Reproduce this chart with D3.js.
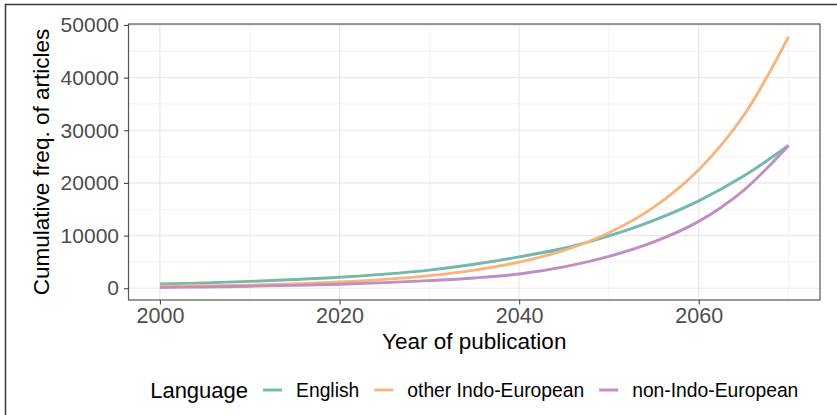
<!DOCTYPE html>
<html>
<head>
<meta charset="utf-8">
<script src="https://cdn.jsdelivr.net/npm/d3@7"></script>
<style>
  html, body { margin: 0; padding: 0; background: #fff; }
  svg { display: block; font-family: "Liberation Sans", Arial, sans-serif; }
</style>
</head>
<body>
<svg id="chart" width="837" height="415"></svg>
<script>
// Years of publication (5-year steps)
const years = [2000, 2005, 2010, 2015, 2020, 2025, 2030, 2035, 2040, 2045, 2050, 2055, 2060, 2065, 2070];

// Cumulative frequency of articles per language group
const english      = [800, 1020, 1300, 1650, 2080, 2680, 3450, 4550, 5950, 7600, 9950, 12900, 16600, 21300, 27100];
const otherIndoEur = [400, 480, 600, 830, 1180, 1680, 2400, 3450, 4950, 7200, 10550, 15400, 22500, 32800, 47800];
const nonIndoEur   = [150, 250, 380, 540, 760, 1060, 1450, 1950, 2700, 4050, 6050, 8800, 12700, 18600, 27100];

const seriesNames  = ["English", "other Indo-European", "non-Indo-European"];
const seriesColors = ["#72b9ab", "#f8b47c", "#bf8ec3"];

const xTicks = [2000, 2020, 2040, 2060];
const xMinor = [2010, 2030, 2050, 2070];
const yTicks = [0, 10000, 20000, 30000, 40000, 50000];
const yMinor = [5000, 15000, 25000, 35000, 45000];

const legendTitle = "Language";
const xTitle = "Year of publication";
const yTitle = "Cumulative freq. of articles";

const series = [english, otherIndoEur, nonIndoEur].map((vals, i) => ({
  name: seriesNames[i],
  color: seriesColors[i],
  points: years.map((yr, j) => ({ x: yr, y: vals[j] }))
}));

const svg = d3.select("#chart");

// outer frame
svg.append("rect")
  .attr("x", 5.5).attr("y", 4.5)
  .attr("width", 1000).attr("height", 600)
  .attr("fill", "none").attr("stroke", "#3a3a3a").attr("stroke-width", 1.5);

const panel = { left: 128.5, right: 820, top: 24, bottom: 300 };

// ggplot-style 5% expansion of data ranges
function expand(ext) {
  const d = ext[1] - ext[0];
  return [ext[0] - 0.05 * d, ext[1] + 0.05 * d];
}
const xExt = d3.extent(years);
const allY = [].concat(english, otherIndoEur, nonIndoEur);
const yExt = d3.extent(allY);

const x = d3.scaleLinear().domain(expand(xExt)).range([panel.left, panel.right]);
const y = d3.scaleLinear().domain(expand(yExt)).range([panel.bottom, panel.top]);

const g = svg.append("g");

// minor grid
g.append("g").selectAll("line").data(xMinor).join("line")
  .attr("x1", d => x(d)).attr("x2", d => x(d))
  .attr("y1", panel.top).attr("y2", panel.bottom)
  .attr("stroke", "#f0f0f0").attr("stroke-width", 0.8);
g.append("g").selectAll("line").data(yMinor).join("line")
  .attr("y1", d => y(d)).attr("y2", d => y(d))
  .attr("x1", panel.left).attr("x2", panel.right)
  .attr("stroke", "#f0f0f0").attr("stroke-width", 0.8);

// major grid
g.append("g").selectAll("line").data(xTicks).join("line")
  .attr("x1", d => x(d)).attr("x2", d => x(d))
  .attr("y1", panel.top).attr("y2", panel.bottom)
  .attr("stroke", "#e8e8e8").attr("stroke-width", 1.2);
g.append("g").selectAll("line").data(yTicks).join("line")
  .attr("y1", d => y(d)).attr("y2", d => y(d))
  .attr("x1", panel.left).attr("x2", panel.right)
  .attr("stroke", "#e8e8e8").attr("stroke-width", 1.2);

// lines
const line = d3.line()
  .x(d => x(d.x)).y(d => y(d.y))
  .curve(d3.curveCatmullRom.alpha(0.5));

g.append("g").selectAll("path").data(series).join("path")
  .attr("d", d => line(d.points))
  .attr("fill", "none")
  .attr("stroke", d => d.color)
  .attr("stroke-width", 2.9)
  .attr("stroke-linecap", "butt");

// panel border
g.append("rect")
  .attr("x", panel.left).attr("y", panel.top)
  .attr("width", panel.right - panel.left).attr("height", panel.bottom - panel.top)
  .attr("fill", "none").attr("stroke", "#555").attr("stroke-width", 1.2);

// axes
const xAxis = d3.axisBottom(x).tickValues(xTicks).tickSize(4.5).tickPadding(3.5).tickFormat(d3.format("d"));
const yAxis = d3.axisLeft(y).tickValues(yTicks).tickSize(4.5).tickPadding(5).tickFormat(d3.format("d"));

const xa = svg.append("g").attr("transform", `translate(0,${panel.bottom})`).call(xAxis);
const ya = svg.append("g").attr("transform", `translate(${panel.left},0)`).call(yAxis);
[xa, ya].forEach(a => {
  a.select(".domain").remove();
  a.selectAll(".tick line").attr("stroke", "#444").attr("stroke-width", 1.1);
  a.selectAll(".tick text")
    .attr("fill", "#4d4d4d")
    .style("font-family", "'Liberation Sans', Arial, sans-serif");
});
xa.selectAll(".tick text").style("font-size", "21.5px").attr("dy", "0.71em");
ya.selectAll(".tick text").style("font-size", "21px");

// axis titles
svg.append("text")
  .attr("x", (panel.left + panel.right) / 2).attr("y", 349)
  .attr("text-anchor", "middle")
  .style("font-size", "22.5px").attr("fill", "#000")
  .text(xTitle);

svg.append("text")
  .attr("transform", `translate(49,${(panel.top + panel.bottom) / 2}) rotate(-90)`)
  .attr("text-anchor", "middle")
  .style("font-size", "22.5px").attr("fill", "#000")
  .text(yTitle);

// legend (centred under the panel)
const legend = svg.append("g");
const legY = 390;
const lt = legend.append("text")
  .attr("y", legY + 8).style("font-size", "22px").attr("fill", "#000")
  .text(legendTitle);
const items = series.map(s => {
  const ln = legend.append("line")
    .attr("y1", legY).attr("y2", legY)
    .attr("stroke", s.color).attr("stroke-width", 2.9);
  const tx = legend.append("text")
    .attr("y", legY + 7).style("font-size", "19.3px").attr("fill", "#000")
    .text(s.name);
  return { ln, tx };
});
const titleW = lt.node().getComputedTextLength();
const keyW = 19, gapTitle = 15, gapKey = 14, gapItem = 15;
let total = titleW + gapTitle;
items.forEach((it, i) => {
  total += keyW + gapKey + it.tx.node().getComputedTextLength() + (i < items.length - 1 ? gapItem : 0);
});
let cx = (panel.left + panel.right) / 2 - total / 2;
lt.attr("x", cx);
cx += titleW + gapTitle;
items.forEach(it => {
  it.ln.attr("x1", cx).attr("x2", cx + keyW);
  cx += keyW + gapKey;
  it.tx.attr("x", cx);
  cx += it.tx.node().getComputedTextLength() + gapItem;
});
</script>
</body>
</html>
